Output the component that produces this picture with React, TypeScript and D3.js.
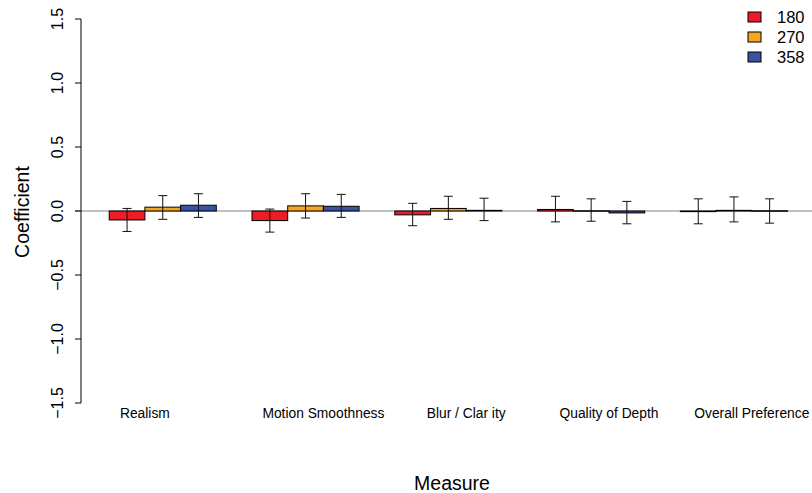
import React from "react";
import * as d3 from "d3";

const measures = ["Realism", "Motion Smoothness", "Blur / Clar ity", "Quality of Depth", "Overall Preference"];
const series = ["180", "270", "358"];
const colors = ["#EE1D25", "#F6A623", "#3853A4"];

// coefficient per measure, one array per series
const coef180 = [-0.07, -0.075, -0.03, 0.012, -0.005];
const coef270 = [0.03, 0.04, 0.02, 0.002, 0.005];
const coef358 = [0.045, 0.037, 0.005, -0.015, 0.002];

const lower180 = [-0.16, -0.165, -0.115, -0.085, -0.1];
const upper180 = [0.02, 0.015, 0.06, 0.115, 0.095];
const lower270 = [-0.065, -0.055, -0.065, -0.08, -0.085];
const upper270 = [0.12, 0.135, 0.115, 0.095, 0.11];
const lower358 = [-0.05, -0.05, -0.075, -0.1, -0.095];
const upper358 = [0.135, 0.13, 0.1, 0.075, 0.095];

const yTicks = [-1.5, -1.0, -0.5, 0.0, 0.5, 1.0, 1.5];

const W = 812, H = 493;
const font = "Liberation Sans, Arial, Helvetica, sans-serif";

export default function App() {
  const coefs = [coef180, coef270, coef358];
  const lowers = [lower180, lower270, lower358];
  const uppers = [upper180, upper270, upper358];

  const y = d3.scaleLinear().domain([-1.5, 1.5]).range([403, 19]);
  const x0 = d3.scaleBand().domain(measures).range([73.5, 787.5]);
  const bw = x0.bandwidth();
  const x1 = d3.scaleBand().domain(series).range([bw * 0.25, bw]);
  const fmt = (v: number) => d3.format(".1f")(v).replace("-", "\u2212");

  // labels sit slightly off-centre in the original
  const labelShift = [1, 2, 2, 2, 2];

  return (
    <svg width={W} height={H} style={{ position: "absolute", left: 0, top: 0, background: "#fff" }} fontFamily={font}>
      {/* zero line */}
      <line x1={75} x2={W} y1={y(0)} y2={y(0)} stroke="#808080" strokeWidth={1} />

      {/* bars */}
      {measures.map((m, i) => (
        <g key={m} transform={`translate(${x0(m)},0)`}>
          {series.map((s, j) => {
            const v = coefs[j][i];
            const bx = x1(s)!;
            const cx = bx + x1.bandwidth() / 2;
            return (
              <g key={s}>
                <rect x={bx} y={Math.min(y(v), y(0))} width={x1.bandwidth()} height={Math.max(Math.abs(y(v) - y(0)), 0.5)}
                  fill={colors[j]} stroke="#000" strokeWidth={1} />
                <line x1={cx} x2={cx} y1={y(uppers[j][i])} y2={y(lowers[j][i])} stroke="#111" />
                <line x1={cx - 4.5} x2={cx + 4.5} y1={y(uppers[j][i])} y2={y(uppers[j][i])} stroke="#111" />
                <line x1={cx - 4.5} x2={cx + 4.5} y1={y(lowers[j][i])} y2={y(lowers[j][i])} stroke="#111" />
              </g>
            );
          })}
          <text x={x1(series[0])! + x1.bandwidth() * labelShift[i]} y={418} textAnchor="middle" fontSize={13.8}>{m}</text>
        </g>
      ))}

      {/* y axis */}
      <line x1={81} x2={81} y1={y(1.5)} y2={y(-1.5)} stroke="#000" />
      {yTicks.map(t => (
        <g key={t}>
          <line x1={75} x2={81} y1={y(t)} y2={y(t)} stroke="#000" />
          <text transform={`translate(63,${y(t)}) rotate(-90)`} textAnchor="middle" fontSize={16}>{fmt(t)}</text>
        </g>
      ))}

      <text transform={`translate(29,212) rotate(-90)`} textAnchor="middle" fontSize={19.5}>Coefficient</text>
      <text x={452} y={490} textAnchor="middle" fontSize={19.5}>Measure</text>

      {/* legend */}
      {series.map((s, j) => (
        <g key={s} transform={`translate(748,${12 + j * 20})`}>
          <rect x={0} y={0} width={13} height={10} fill={colors[j]} stroke="#000" />
          <text x={29} y={10.5} fontSize={16.5}>{s}</text>
        </g>
      ))}
    </svg>
  );
}
